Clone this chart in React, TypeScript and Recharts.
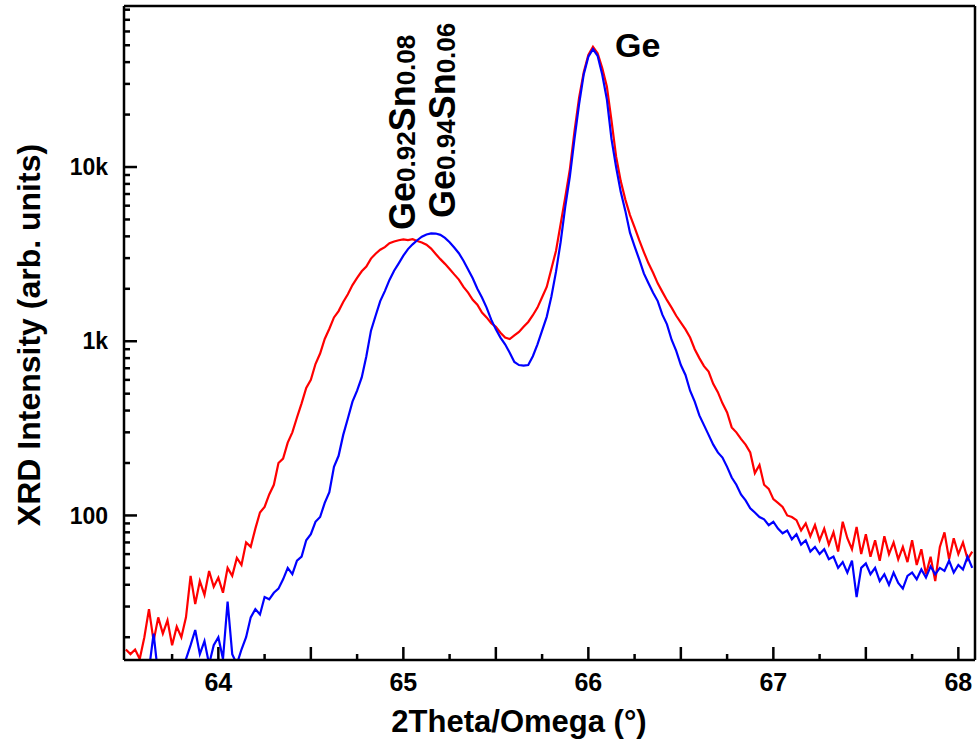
import React from 'react';
import { ComposedChart, Line, Scatter, XAxis, YAxis } from 'recharts';

// 2Theta/Omega positions (degrees)
const twoTheta = [
  63.5, 63.525, 63.55, 63.575, 63.6, 63.625, 63.65, 63.675, 63.7, 63.725,
  63.75, 63.775, 63.8, 63.825, 63.85, 63.875, 63.9, 63.925, 63.95, 63.975,
  64.0, 64.025, 64.05, 64.075, 64.1, 64.125, 64.15, 64.175, 64.2, 64.225,
  64.25, 64.275, 64.3, 64.325, 64.35, 64.375, 64.4, 64.425, 64.45, 64.475,
  64.5, 64.525, 64.55, 64.575, 64.6, 64.625, 64.65, 64.675, 64.7, 64.725,
  64.75, 64.775, 64.8, 64.825, 64.85, 64.875, 64.9, 64.925, 64.95, 64.975,
  65.0, 65.025, 65.05, 65.075, 65.1, 65.125, 65.15, 65.175, 65.2, 65.225,
  65.25, 65.275, 65.3, 65.325, 65.35, 65.375, 65.4, 65.425, 65.45, 65.475,
  65.5, 65.525, 65.55, 65.575, 65.6, 65.625, 65.65, 65.675, 65.7, 65.725,
  65.75, 65.775, 65.8, 65.825, 65.85, 65.875, 65.9, 65.925, 65.95, 65.975,
  66.0, 66.025, 66.05, 66.075, 66.1, 66.125, 66.15, 66.175, 66.2, 66.225,
  66.25, 66.275, 66.3, 66.325, 66.35, 66.375, 66.4, 66.425, 66.45, 66.475,
  66.5, 66.525, 66.55, 66.575, 66.6, 66.625, 66.65, 66.675, 66.7, 66.725,
  66.75, 66.775, 66.8, 66.825, 66.85, 66.875, 66.9, 66.925, 66.95, 66.975,
  67.0, 67.025, 67.05, 67.075, 67.1, 67.125, 67.15, 67.175, 67.2, 67.225,
  67.25, 67.275, 67.3, 67.325, 67.35, 67.375, 67.4, 67.425, 67.45, 67.475,
  67.5, 67.525, 67.55, 67.575, 67.6, 67.625, 67.65, 67.675, 67.7, 67.725,
  67.75, 67.775, 67.8, 67.825, 67.85, 67.875, 67.9, 67.925, 67.95, 67.975,
  68.0, 68.025, 68.05, 68.075,
];

// Red trace (Ge0.92Sn0.08 sample)
const redIntensity = [
  17, 16, 17, 15, 20, 29, 19, 26, 21, 25,
  18, 23, 20, 26, 45, 31, 42, 35, 48, 39,
  44, 36, 50, 45, 57, 52, 70, 66, 84, 104,
  112, 132, 150, 200, 212, 262, 300, 365, 440, 540,
  600, 740, 850, 1030, 1180, 1370, 1490, 1680, 1860, 2100,
  2310, 2520, 2680, 2980, 3180, 3350, 3470, 3650, 3740, 3800,
  3840, 3810, 3850, 3760, 3690, 3580, 3400, 3170, 2960, 2780,
  2600, 2420, 2260, 2050, 1900, 1730, 1620, 1460, 1370, 1270,
  1210, 1120, 1050, 1030, 1080, 1130, 1210, 1290, 1410, 1560,
  1790, 2050, 2600, 3300, 4700, 6700, 9700, 16000, 25000, 35000,
  44000, 49000, 45000, 37000, 29000, 18500, 11500, 8300, 6500, 5300,
  4500, 3800, 3250, 2800, 2470, 2150, 1920, 1720, 1560, 1400,
  1280, 1170, 1050, 900, 800, 720, 670, 570, 510, 440,
  390, 320, 300, 275, 255, 230, 175, 195, 150, 142,
  124, 118, 112, 100, 98, 94, 82, 90, 76, 88,
  72, 84, 68, 80, 62, 92, 74, 64, 86, 60,
  78, 58, 72, 55, 76, 60, 70, 56, 66, 54,
  72, 52, 64, 46, 58, 42, 66, 80, 56, 74,
  60, 70, 56, 62,
];

// Blue trace (Ge0.94Sn0.06 sample)
const blueIntensity = [
  12, 11, 13, 12, 11, 13, 21, 12, 13, 11,
  14, 12, 13, 15, 18, 22, 16, 19, 14, 18,
  20, 15, 32, 16, 14, 17, 20, 26, 29, 27,
  34, 33, 36, 38, 43, 50, 46, 55, 58, 72,
  78, 92, 98, 118, 136, 190, 220, 290, 360, 450,
  520, 620, 820, 1150, 1400, 1700, 1940, 2250, 2540, 2800,
  3100, 3380, 3600, 3800, 3980, 4100, 4160, 4150, 4080, 3920,
  3700, 3450, 3200, 2900, 2580, 2300, 2000, 1780, 1560, 1330,
  1170, 1050, 960, 860, 760, 730, 725, 730, 820, 960,
  1150, 1380, 1800, 2500, 3700, 5900, 8800, 14500, 23000, 34000,
  43000, 47500, 43500, 34000, 24500, 14500, 10000, 7200, 5600, 4200,
  3500, 2950, 2450, 2150, 1900, 1700, 1420, 1250, 1020, 880,
  730, 640, 520, 450, 375, 330, 290, 255, 230, 215,
  190, 165, 150, 132, 122, 110, 104, 98, 95, 88,
  92, 84, 79, 82, 73, 78, 68, 72, 62, 66,
  60, 64, 56, 58, 50, 54, 47, 55, 34, 50,
  53, 46, 50, 42, 46, 40, 47, 41, 38, 45,
  47, 43, 49, 44, 51, 46, 50, 48, 55, 47,
  52, 49, 58, 50,
];

// tick positions
const xLabelTicks = [64, 65, 66, 67, 68];
const xMajorTicks = [64, 64.5, 65, 65.5, 66, 66.5, 67, 67.5, 68];
const xMinorTicks = [63.75, 64.25, 64.75, 65.25, 65.75, 66.25, 66.75, 67.25, 67.75];
const yMajorTicks = [100, 1000, 10000];
const yMinorTicks = [
  20, 30, 40, 50, 60, 70, 80, 90,
  200, 300, 400, 500, 600, 700, 800, 900,
  2000, 3000, 4000, 5000, 6000, 7000, 8000, 9000,
  20000, 30000, 40000, 50000, 60000, 70000, 80000,
];
const yTickLabels: Record<number, string> = { 100: '100', 1000: '1k', 10000: '10k' };

const xDomain = [63.49, 68.09];
const yDomain = [14.8, 84000];

const data = twoTheta.map((x, i) => ({ x, red: redIntensity[i], blue: blueIntensity[i] }));
const xMajorMarks = xMajorTicks.map((x) => ({ x, y: yDomain[0] }));
const xMinorMarks = xMinorTicks.map((x) => ({ x, y: yDomain[0] }));
const yMajorMarks = yMajorTicks.map((y) => ({ x: xDomain[0], y }));
const yMinorMarks = yMinorTicks.map((y) => ({ x: xDomain[0], y }));

const FONT = '"Liberation Sans", Arial, Helvetica, sans-serif';
const axisLineStyle = { stroke: '#000', strokeWidth: 2.5 };
const noLabel = () => <g />;

const vTick = (len: number) => (p: any) => (
  <line x1={p.cx} y1={p.cy} x2={p.cx} y2={p.cy - len} stroke="#000" strokeWidth={2.5} />
);
const hTick = (len: number) => (p: any) => (
  <line x1={p.cx} y1={p.cy} x2={p.cx + len} y2={p.cy} stroke="#000" strokeWidth={2.5} />
);

export default function App() {
  return (
    <div style={{ position: 'absolute', left: 0, top: 0, width: 979, height: 751, background: '#fff' }}>
      <ComposedChart width={979} height={751} data={data} margin={{ top: 5, right: 3, bottom: 0, left: 0 }}>
        <XAxis
          dataKey="x"
          type="number"
          domain={xDomain}
          allowDataOverflow
          ticks={xLabelTicks}
          interval={0}
          tick={{ fontSize: 25, fontWeight: 'bold', fill: '#000', fontFamily: FONT }}
          tickLine={false}
          tickSize={0}
          tickMargin={13}
          height={91}
          axisLine={axisLineStyle}
        />
        <XAxis
          xAxisId="top"
          orientation="top"
          dataKey="x"
          type="number"
          domain={xDomain}
          allowDataOverflow
          tick={noLabel}
          tickLine={false}
          height={1}
          axisLine={axisLineStyle}
        />
        <YAxis
          type="number"
          scale="log"
          domain={yDomain}
          allowDataOverflow
          ticks={yMajorTicks}
          interval={0}
          tickFormatter={(v: number) => yTickLabels[v] ?? ''}
          tick={{ fontSize: 23, fontWeight: 'bold', fill: '#000', fontFamily: FONT }}
          tickLine={false}
          tickSize={0}
          tickMargin={16}
          width={124}
          axisLine={axisLineStyle}
        />
        <YAxis
          yAxisId="right"
          orientation="right"
          type="number"
          scale="log"
          domain={yDomain}
          allowDataOverflow
          tick={noLabel}
          tickLine={false}
          width={1}
          axisLine={axisLineStyle}
        />
        <Line type="linear" dataKey="red" stroke="#ff0000" strokeWidth={2.2} dot={false} isAnimationActive={false} />
        <Line type="linear" dataKey="blue" stroke="#0000ff" strokeWidth={2.2} dot={false} isAnimationActive={false} />
        <Scatter data={xMajorMarks} dataKey="y" shape={vTick(13)} isAnimationActive={false} />
        <Scatter data={xMinorMarks} dataKey="y" shape={vTick(6)} isAnimationActive={false} />
        <Scatter data={yMajorMarks} dataKey="y" shape={hTick(13)} isAnimationActive={false} />
        <Scatter data={yMinorMarks} dataKey="y" shape={hTick(6)} isAnimationActive={false} />
      </ComposedChart>
      <svg
        width={979}
        height={751}
        style={{ position: 'absolute', left: 0, top: 0, pointerEvents: 'none' }}
      >
        <text x={519} y={732} textAnchor="middle" fontSize={31} fontWeight="bold" fontFamily={FONT} fill="#000">
          2Theta/Omega (°)
        </text>
        <text
          transform="translate(40,335) rotate(-90)"
          textAnchor="middle"
          fontSize={32}
          fontWeight="bold"
          fontFamily={FONT}
          fill="#000"
        >
          XRD Intensity (arb. units)
        </text>
        <text transform="translate(415,230) rotate(-90)" fontSize={36} fontWeight="bold" fontFamily={FONT} fill="#000">
          Ge<tspan fontSize={26}>0.92</tspan>Sn<tspan fontSize={26}>0.08</tspan>
        </text>
        <text transform="translate(455,218) rotate(-90)" fontSize={36} fontWeight="bold" fontFamily={FONT} fill="#000">
          Ge<tspan fontSize={26}>0.94</tspan>Sn<tspan fontSize={26}>0.06</tspan>
        </text>
        <text x={615} y={57} fontSize={34} fontWeight="bold" fontFamily={FONT} fill="#000">
          Ge
        </text>
      </svg>
    </div>
  );
}
